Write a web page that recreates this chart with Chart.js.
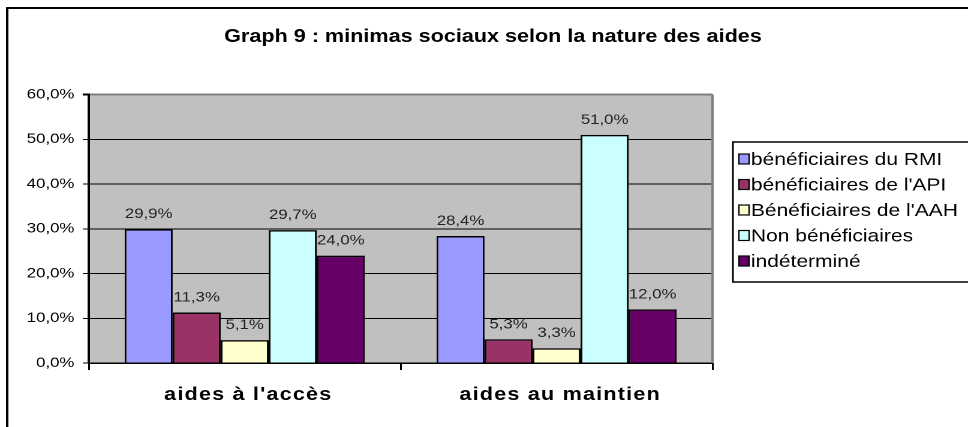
<!DOCTYPE html>
<html>
<head>
<meta charset="utf-8">
<script src="https://cdn.jsdelivr.net/npm/chart.js@4"></script>
<style>
  html, body { margin: 0; padding: 0; background: #fff; overflow: hidden; }
  #wrap { width: 807px; height: 427px; transform: scaleX(1.1995); transform-origin: 0 0; }
  #chart { width: 807px; height: 427px; display: block; }
</style>
</head>
<body>
<div id="wrap"><canvas id="chart" width="807" height="427"></canvas></div>
<script>
// données (en %)
const categories = ['aides à l\'accès', 'aides au maintien']
const seriesNames = ['bénéficiaires du RMI', 'bénéficiaires de l\'API', 'Bénéficiaires de l\'AAH', 'Non bénéficiaires', 'indéterminé']
const rmi = [29.9, 28.4]
const api = [11.3, 5.3]
const aah = [5.1, 3.3]
const nonBenef = [29.7, 51.0]
const indetermine = [24.0, 12.0]
const yTicks = [0, 10, 20, 30, 40, 50, 60]

const colors = ['#9999FF', '#993366', '#FFFFCC', '#CCFFFF', '#660066']
const seriesValues = [rmi, api, aah, nonBenef, indetermine]

const fmt = v => v.toFixed(1).replace('.', ',') + '%'

const W = 807
const H = 427

const frame = { // cadre extérieur, fond de la zone de tracé
  id: 'frame',
  beforeDraw(chart) {
    const { ctx, chartArea: a } = chart
    ctx.save()
    ctx.fillStyle = '#C0C0C0'
    ctx.fillRect(a.left, a.top, a.right - a.left, a.bottom - a.top)
    ctx.strokeStyle = '#000'
    ctx.lineWidth = 2
    ctx.strokeRect(6, 8, W + 20, H + 20)
    ctx.restore()
  },
  beforeDatasetsDraw(chart) {
    const { ctx, chartArea: a } = chart
    ctx.save()
    ctx.strokeStyle = '#808080'
    ctx.lineWidth = 2
    ctx.beginPath()
    ctx.moveTo(a.right, a.top)
    ctx.lineTo(a.right, a.bottom)
    ctx.stroke()
    ctx.restore()
  }
}

const valueLabels = {
  id: 'valueLabels',
  afterDatasetsDraw(chart) {
    const { ctx } = chart
    ctx.save()
    ctx.font = '14px "Liberation Sans", Arial, sans-serif'
    ctx.fillStyle = '#222'
    ctx.textAlign = 'center'
    ctx.textBaseline = 'alphabetic'
    chart.data.datasets.forEach((ds, i) => {
      chart.getDatasetMeta(i).data.forEach((bar, j) => {
        ctx.fillText(fmt(ds.data[j]), bar.x, bar.y - 11)
      })
    })
    ctx.restore()
  }
}

const boxLegend = { // légende encadrée à droite
  id: 'boxLegend',
  afterDraw(chart) {
    const { ctx } = chart
    const left = 611
    const top = 142
    const rowH = 25.5
    ctx.save()
    ctx.strokeStyle = '#000'
    ctx.lineWidth = 1.5
    ctx.strokeRect(left, top, W, 140)
    ctx.font = '17.5px "Liberation Sans", Arial, sans-serif'
    ctx.textBaseline = 'middle'
    ctx.fillStyle = '#000'
    chart.data.datasets.forEach((ds, i) => {
      const y = top + 17 + i * rowH
      ctx.fillStyle = ds.backgroundColor
      ctx.fillRect(left + 5, y - 5, 8.5, 10)
      ctx.lineWidth = 1.2
      ctx.strokeRect(left + 5, y - 5, 8.5, 10)
      ctx.fillStyle = '#000'
      ctx.fillText(ds.label, left + 15, y + 1)
    })
    ctx.restore()
  }
}

const spaced = { // espacement des lettres des catégories
  id: 'spaced',
  afterLayout(chart) {
    const xs = chart.scales.x
    if (!xs._origDrawLabels) {
      xs._origDrawLabels = xs.drawLabels
      xs.drawLabels = function (area) {
        chart.ctx.save()
        chart.ctx.letterSpacing = '1px'
        chart.ctx.translate(3, 0)
        xs._origDrawLabels.call(this, area)
        chart.ctx.restore()
      }
    }
  }
}

const datasets = seriesNames.map((name, i) => ({
  label: name,
  data: seriesValues[i],
  backgroundColor: colors[i],
  borderColor: '#000',
  borderWidth: 1.5,
  yAxisID: 'y',
  categoryPercentage: 0.77,
  barPercentage: 1
}))

new Chart(document.getElementById('chart'), {
  type: 'bar',
  data: { labels: categories, datasets },
  options: {
    responsive: false,
    maintainAspectRatio: false,
    animation: false,
    devicePixelRatio: 2,
    layout: { padding: { left: 15, right: 0, top: 0, bottom: 0 } },
    plugins: {
      legend: { display: false },
      tooltip: { enabled: false },
      title: {
        display: true,
        text: 'Graph 9 : minimas sociaux selon la nature des aides',
        color: '#000',
        font: { family: '"Liberation Sans", Arial, sans-serif', size: 18, weight: 'bold' },
        padding: { top: 26, bottom: 47 }
      }
    },
    scales: {
      x: {
        grid: { drawOnChartArea: false, drawTicks: true, tickLength: 7, color: '#000', lineWidth: 1.5 },
        border: { color: '#000', width: 1.5 },
        ticks: {
          color: '#000',
          padding: 14,
          maxRotation: 0,
          font: { family: '"Liberation Sans", Arial, sans-serif', size: 18, weight: 'bold' }
        },
        afterFit: s => { s.height = 64 }
      },
      y: {
        min: 0,
        max: 60,
        afterBuildTicks: s => { s.ticks = yTicks.map(v => ({ value: v })) },
        grid: {
          color: c => c.tick && c.tick.value === 60 ? '#808080' : '#000',
          lineWidth: c => c.tick && c.tick.value === 60 ? 2 : 1,
          tickColor: '#000',
          tickLength: 5
        },
        border: { color: '#000', width: 2 },
        ticks: {
          color: '#000',
          padding: 7,
          font: { family: '"Liberation Sans", Arial, sans-serif', size: 14 },
          callback: v => fmt(v)
        },
        afterFit: s => { s.width = 59 }
      },
      r: {
        axis: 'y',
        position: 'right',
        display: true,
        grid: { display: false, drawTicks: false },
        border: { display: false },
        ticks: { display: false },
        afterFit: s => { s.width = W - 594 }
      }
    }
  },
  plugins: [frame, valueLabels, boxLegend, spaced]
})
</script>
</body>
</html>
